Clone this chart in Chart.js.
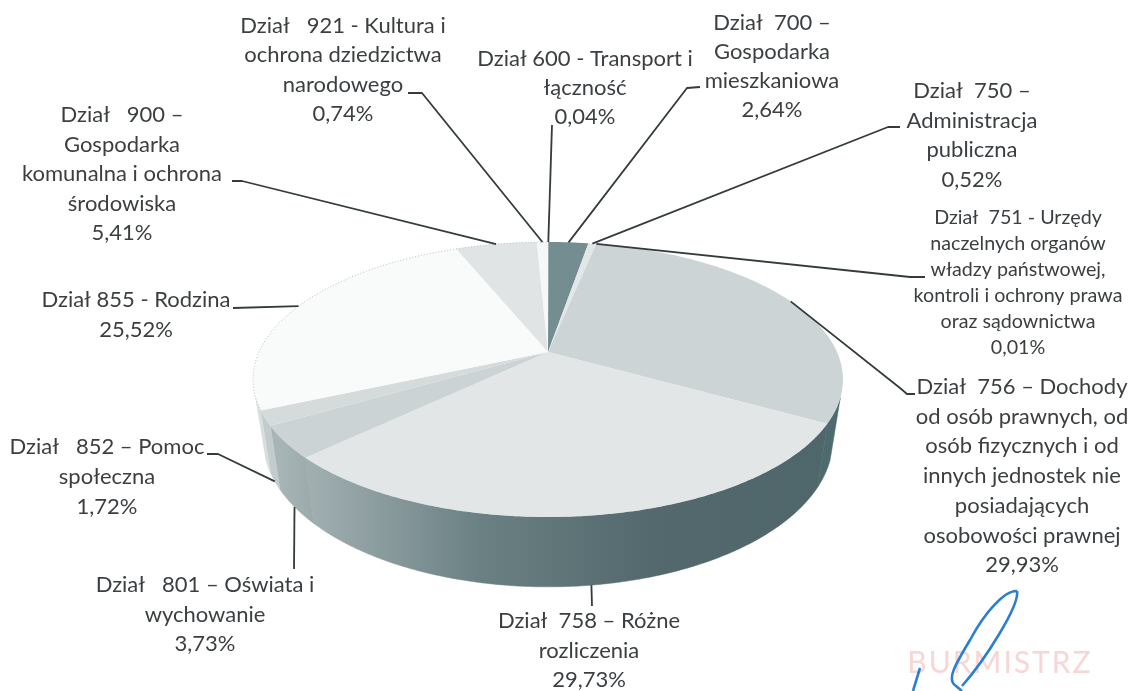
<!DOCTYPE html>
<html lang="pl">
<head>
<meta charset="utf-8">
<title>Dochody wg działów</title>
<script src="https://cdn.jsdelivr.net/npm/chart.js@4"></script>
<style>
  html, body { margin: 0; padding: 0; background: #fff; }
  canvas { display: block; }
</style>
</head>
<body>
<canvas id="pie" width="1134" height="691"></canvas>
<script>
const categories = [
  ["Dział 600 - Transport i", "łączność"],
  ["Dział  700 –", "Gospodarka", "mieszkaniowa"],
  ["Dział  750 –", "Administracja", "publiczna"],
  ["Dział  751 - Urzędy", "naczelnych organów", "władzy państwowej,", "kontroli i ochrony prawa", "oraz sądownictwa"],
  ["Dział  756 – Dochody", "od osób prawnych, od", "osób fizycznych i od", "innych jednostek nie", "posiadających", "osobowości prawnej"],
  ["Dział  758 – Różne", "rozliczenia"],
  ["Dział   801 – Oświata i", "wychowanie"],
  ["Dział   852 – Pomoc", "społeczna"],
  ["Dział 855 - Rodzina"],
  ["Dział   900 –", "Gospodarka", "komunalna i ochrona", "środowiska"],
  ["Dział   921 - Kultura i", "ochrona dziedzictwa", "narodowego"],
];
const values = [0.04, 2.64, 0.52, 0.01, 29.93, 29.73, 3.73, 1.72, 25.52, 5.41, 0.74];

const topColors = ["#8a9ea1", "#748d90", "#e2e6e6", "#d0d7d8", "#ccd4d5", "#e2e6e7", "#ccd3d4", "#d5dadb", "#f9fafa", "#e0e4e5", "#f6f7f7"];
// wall shades per slice, left to right
const wallShades = [
  ["#8a9ea1"], ["#748d90"], ["#c0c8c9"], ["#a0aeb0"],
  ["#4f6a6e"],
  ["#a0aeb0", "#6a8083", "#54696d", "#4f666a"],
  ["#a8b5b7", "#9aa9ab"],
  ["#c3cccd"],
  ["#d8dddd"], ["#c0c8c9"], ["#d8dddd"],
];

// label layout: centre x, first baseline, line height, font size
const labelX = [585, 772, 972, 1018, 1022, 589, 205, 107, 136, 122, 343];
const labelY = [66, 30, 98, 224, 394, 628, 592, 454, 307, 122, 33];
const labelStep = [29, 29, 29.5, 26, 29.7, 29.5, 29.5, 30, 30, 29.5, 29.3];
const labelSize = [22, 22, 22, 19.7, 22, 22, 22, 22, 22, 22, 22];

// leader bends, from the label side towards the pie. rimEdge says which rim the end sits on
const leaderBends = [
  [[552, 125]],
  [[700, 87], [687, 88]],
  [[900, 127], [888, 127]],
  [[925, 277], [910, 277]],
  [[915, 394], [907, 394], [900, 388]],
  [[592, 606]],
  [[294, 569]],
  [[207, 454], [218, 454]],
  [[233, 308]],
  [[232, 181], [242, 181]],
  [[408, 93], [422, 93]],
];
const rimEdge = ["top", "top", "top", "top", "top", "bottom", "bottom", "bottom", "top", "top", "top"];

// the scanned pie is in perspective, so the apex is not the middle of the ellipse
const topRim = { x0: 548, y0: 352, a: 289, b: 132, k: 0.2 };
const bottomRim = { x0: 548, y0: 410.6, a: 279, b: 141, k: 0.2 };
const wallFrom = 109 * Math.PI / 180;
const wallTo = 251 * Math.PI / 180;

function project(rim, theta, r = 1) {
  const u = Math.sin(theta) * r;
  const v = -Math.cos(theta) * r;
  const d = 1 - rim.k * v;
  return [rim.x0 + rim.a * u / d, rim.y0 + rim.b * v / d];
}

function traceRim(ctx, rim, from, to) {
  const steps = Math.max(2, Math.ceil(Math.abs(to - from) / 0.01));
  for (let i = 0; i <= steps; i++) {
    const p = project(rim, from + (to - from) * i / steps);
    ctx.lineTo(p[0], p[1]);
  }
}

function drawTopSlice(ctx) {
  const from = this.startAngle + Math.PI / 2;
  const to = this.endAngle + Math.PI / 2;
  ctx.beginPath();
  ctx.moveTo(topRim.x0, topRim.y0);
  traceRim(ctx, topRim, from, to);
  ctx.closePath();
  ctx.fillStyle = this.options.backgroundColor;
  ctx.fill();
}

const pie3d = {
  id: "pie3d",
  beforeDatasetsDraw(chart) {
    const ctx = chart.ctx;
    const arcs = chart.getDatasetMeta(0).data;
    arcs.forEach((arc) => { arc.draw = drawTopSlice; });
    arcs.forEach((arc, i) => {
      const from = Math.max(arc.startAngle + Math.PI / 2, wallFrom);
      const to = Math.min(arc.endAngle + Math.PI / 2, wallTo);
      if (to <= from) return;
      const a = project(bottomRim, from);
      const b = project(bottomRim, to);
      const grad = ctx.createLinearGradient(b[0], 0, a[0], 0);
      const shades = wallShades[i];
      shades.forEach((c, j) => {
        grad.addColorStop(shades.length > 1 ? j / (shades.length - 1) : 0, c);
      });
      ctx.beginPath();
      const s = project(topRim, from);
      ctx.moveTo(s[0], s[1]);
      traceRim(ctx, topRim, from, to);
      traceRim(ctx, bottomRim, to, from);
      ctx.closePath();
      ctx.fillStyle = grad;
      ctx.strokeStyle = grad;
      ctx.lineWidth = 0.5;
      ctx.fill();
      ctx.stroke();
    });
  },
  afterDatasetsDraw(chart) {
    const ctx = chart.ctx;
    const arcs = chart.getDatasetMeta(0).data;

    // faint dotted edge of the near-white part of the rim
    ctx.save();
    ctx.setLineDash([1, 2]);
    ctx.strokeStyle = "#b9c0c1";
    ctx.lineWidth = 1;
    ctx.beginPath();
    const edgeFrom = arcs[8].startAngle + Math.PI / 2;
    const edgeTo = arcs[10].endAngle + Math.PI / 2;
    const p0 = project(topRim, edgeFrom);
    ctx.moveTo(p0[0], p0[1]);
    traceRim(ctx, topRim, edgeFrom, edgeTo);
    ctx.stroke();
    ctx.restore();

    // leaders
    ctx.strokeStyle = "#333b3d";
    ctx.lineWidth = 1.8;
    ctx.lineJoin = "round";
    arcs.forEach((arc, i) => {
      const mid = (arc.startAngle + arc.endAngle) / 2 + Math.PI / 2;
      const end = project(rimEdge[i] === "bottom" ? bottomRim : topRim, mid);
      ctx.beginPath();
      leaderBends[i].forEach((p, j) => {
        if (j === 0) ctx.moveTo(p[0], p[1]);
        else ctx.lineTo(p[0], p[1]);
      });
      ctx.lineTo(end[0], end[1]);
      ctx.stroke();
    });

    // labels
    ctx.fillStyle = "#3b3f41";
    ctx.textAlign = "center";
    ctx.textBaseline = "alphabetic";
    categories.forEach((lines, i) => {
      ctx.font = labelSize[i] + "px Lato";
      const all = lines.concat([values[i].toFixed(2).replace(".", ",") + "%"]);
      all.forEach((line, j) => {
        ctx.fillText(line, labelX[i], labelY[i] + j * labelStep[i]);
      });
    });

    // stamp and signature at the bottom right
    ctx.fillStyle = "#f9d6d6";
    ctx.font = "30px Lato";
    ctx.letterSpacing = "2px";
    ctx.fillText("BURMISTRZ", 1000, 673);
    ctx.letterSpacing = "0px";
    ctx.strokeStyle = "#2a7fd0";
    ctx.lineWidth = 2.6;
    ctx.beginPath();
    ctx.moveTo(1017, 591);
    ctx.bezierCurveTo(1005, 590, 985, 612, 970, 640);
    ctx.bezierCurveTo(955, 665, 946, 680, 956, 686);
    ctx.lineTo(962, 691);
    ctx.moveTo(962, 686);
    ctx.bezierCurveTo(985, 660, 1020, 605, 1017, 591);
    ctx.moveTo(920, 668);
    ctx.lineTo(913, 691);
    ctx.stroke();
  },
};

new Chart(document.getElementById("pie"), {
  type: "pie",
  data: {
    labels: categories.map((c) => c.join(" ")),
    datasets: [{ data: values, backgroundColor: topColors, borderWidth: 0 }],
  },
  options: {
    responsive: false,
    animation: false,
    events: [],
    plugins: { legend: { display: false }, tooltip: { enabled: false } },
  },
  plugins: [pie3d],
});
</script>
</body>
</html>
